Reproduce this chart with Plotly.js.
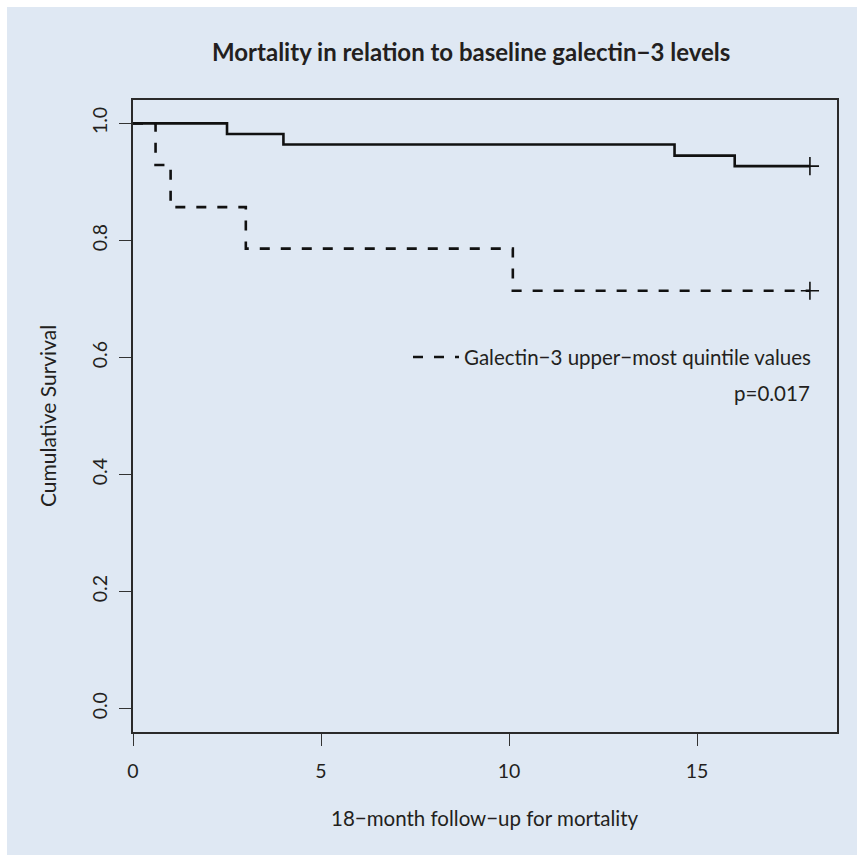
<!DOCTYPE html>
<html>
<head>
<meta charset="utf-8">
<script src="https://cdn.plot.ly/plotly-3.0.1.min.js"></script>
<style>
  html, body { margin: 0; padding: 0; background: #ffffff; }
  #chart { position: absolute; left: 7px; top: 7px; width: 850px; height: 848px; }
</style>
</head>
<body>
<div id="chart"></div>
<script>
// Kaplan-Meier step data (months, cumulative survival)
const lowTimes  = [0, 2.5, 4.0, 14.4, 16.0, 18];
const lowSurv   = [1.0, 0.982, 0.964, 0.945, 0.927, 0.927];
const highTimes = [0, 0.6, 1.0, 3.0, 10.1, 18];
const highSurv  = [1.0, 0.929, 0.857, 0.786, 0.714, 0.714];
// censoring marks
const lowCensorT  = [18];
const lowCensorS  = [0.927];
const highCensorT = [18];
const highCensorS = [0.714];

const xTicks = [0, 5, 10, 15];
const yTicks = [0.0, 0.2, 0.4, 0.6, 0.8, 1.0];
const yTickText = ["0.0", "0.2", "0.4", "0.6", "0.8", "1.0"];

const titleText = "Mortality in relation to baseline galectin\u22123 levels";
const xTitle = "18\u2212month follow\u2212up for mortality";
const yTitle = "Cumulative Survival";
const legendText = "Galectin\u22123 upper\u2212most quintile values";
const pText = "p=0.017";

const FONT = "Lato, 'Open Sans', sans-serif";
const INK = "#231f20";

const traces = [
  {
    x: lowTimes, y: lowSurv, type: "scatter", mode: "lines",
    line: { shape: "hv", color: "#111", width: 2.6 },
    showlegend: false, hoverinfo: "skip"
  },
  {
    x: highTimes, y: highSurv, type: "scatter", mode: "lines",
    line: { shape: "hv", color: "#111", width: 2.6, dash: "10px,11px" },
    name: legendText, showlegend: true, hoverinfo: "skip"
  },
  {
    x: lowCensorT, y: lowCensorS, type: "scatter", mode: "markers",
    marker: { symbol: "cross-thin", size: 13, line: { color: "#111", width: 1.6 } },
    showlegend: false, hoverinfo: "skip"
  },
  {
    x: highCensorT, y: highCensorS, type: "scatter", mode: "markers",
    marker: { symbol: "cross-thin", size: 13, line: { color: "#111", width: 1.6 } },
    showlegend: false, hoverinfo: "skip"
  }
];

const layout = {
  width: 850, height: 848,
  paper_bgcolor: "#dfe8f3",
  plot_bgcolor: "#dfe8f3",
  margin: { l: 126, r: 20, t: 93, b: 123, pad: 0 },
  font: { family: FONT, color: INK, size: 20 },
  showlegend: true,
  legend: {
    x: 0.3906, y: 0.593, xanchor: "left", yanchor: "middle",
    bgcolor: "rgba(0,0,0,0)", borderwidth: 0,
    font: { family: FONT, size: 20.5, color: INK },
    itemwidth: 46
  },
  xaxis: {
    range: [0, 18.72], autorange: false,
    tickvals: xTicks, ticktext: xTicks.map(String),
    ticks: "outside", ticklen: 12, tickwidth: 1, tickcolor: "#333",
    showline: true, linecolor: "#2a2a2a", linewidth: 1.6, mirror: true,
    showgrid: false, zeroline: false,
    tickfont: { family: FONT, size: 19.5, color: INK },
    ticklabelstandoff: 9
  },
  yaxis: {
    range: [-0.04, 1.04], autorange: false,
    tickvals: yTicks, ticktext: yTickText,
    tickangle: -90,
    ticks: "outside", ticklen: 12, tickwidth: 1, tickcolor: "#333",
    showline: true, linecolor: "#2a2a2a", linewidth: 1.6, mirror: true,
    showgrid: false, zeroline: false,
    tickfont: { family: FONT, size: 19.5, color: INK },
    ticklabelstandoff: 5
  },
  annotations: [
    { text: "<b>" + titleText + "</b>", xref: "paper", yref: "paper", x: 0.5, y: 1,
      xanchor: "center", yanchor: "middle", yshift: 49, xshift: -14, showarrow: false,
      font: { family: FONT, size: 24, color: INK } },
    { text: xTitle, xref: "paper", yref: "paper", x: 0.5, y: 0,
      xanchor: "center", yanchor: "middle", yshift: -86, showarrow: false,
      font: { family: FONT, size: 20.5, color: INK } },
    { text: yTitle, xref: "paper", yref: "paper", x: 0, y: 0.5,
      xanchor: "center", yanchor: "middle", xshift: -86, textangle: -90, showarrow: false,
      font: { family: FONT, size: 21, color: INK } },
    { text: pText, xref: "paper", yref: "paper", x: 0.9645, y: 0.536,
      xanchor: "right", yanchor: "middle", showarrow: false,
      font: { family: FONT, size: 20.5, color: INK } }
  ]
};

Plotly.newPlot("chart", traces, layout, { displayModeBar: false, staticPlot: true });
</script>
</body>
</html>
